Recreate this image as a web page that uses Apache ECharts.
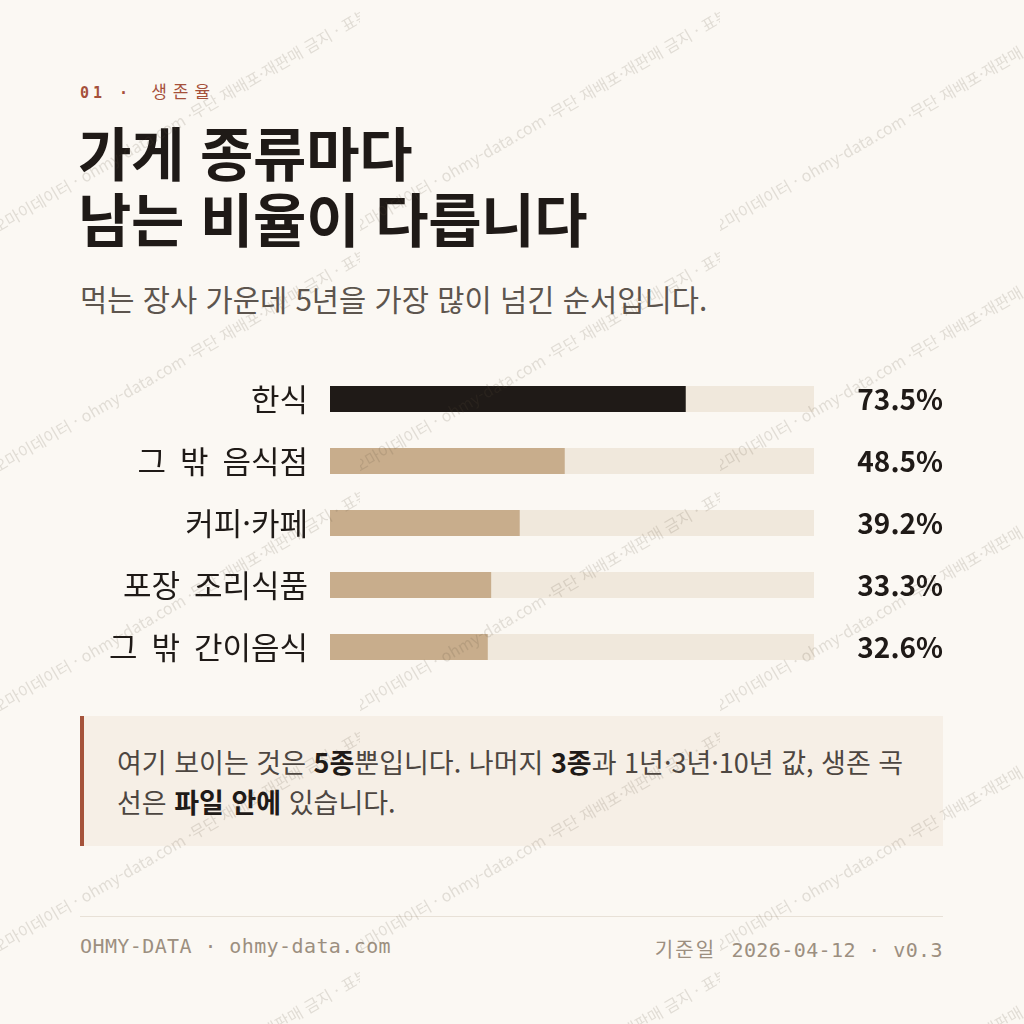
<!DOCTYPE html>
<html lang="ko">
<head>
<meta charset="utf-8">
<title>생존율</title>
<script src="https://cdn.jsdelivr.net/npm/echarts@6/dist/echarts.min.js"></script>
<style>
  html, body { margin: 0; padding: 0; }
  body {
    width: 1024px; height: 1024px; overflow: hidden; position: relative;
    background: #fbf8f3;
    font-family: "Noto Sans CJK KR", "Noto Sans", sans-serif;
    color: #1f1a17;
  }
  .kicker {
    position: absolute; left: 80px; top: 78px;
    font-family: "DejaVu Sans Mono", monospace; font-size: 15px; font-weight: bold;
    letter-spacing: 4px; color: #a5503a;
  }
  .kicker .ko { font-family: "Noto Sans CJK KR", sans-serif; font-weight: normal; font-size: 17px; letter-spacing: 6px; margin-left: 6px; }
  .title {
    position: absolute; left: 78px; top: 118px; margin: 0;
    font-size: 58px; font-weight: bold; line-height: 66px; letter-spacing: -0.3px;
  }
  .sub {
    position: absolute; left: 80px; top: 278px;
    font-size: 29.6px; color: #5d554e; line-height: 42px;
  }
  #chart { position: absolute; left: 0; top: 368px; width: 1024px; height: 310px; }
  .note {
    position: absolute; left: 80px; top: 716px; width: 863px; height: 130px;
    box-sizing: border-box; background: #f6efe6; border-left: 4px solid #a5533b;
    padding: 26px 10px 0 33px;
    font-size: 27px; line-height: 40px; color: #4d4641; white-space: nowrap;
  }
  .note b { color: #1f1a17; font-weight: bold; }
  .rule { position: absolute; left: 80px; top: 916px; width: 863px; height: 1px; background: #e8e1d7; }
  .foot {
    position: absolute; top: 934px;
    font-family: "DejaVu Sans Mono", monospace; font-size: 20px; letter-spacing: 0.4px;
    color: #9c8f80;
  }
  .foot .ko { font-family: "Noto Sans CJK KR", sans-serif; font-size: 20px; letter-spacing: 2px; margin-right: 3px; }
  .wm { position: absolute; left: 0; top: 0; width: 1024px; height: 1024px; pointer-events: none; overflow: hidden; }
  .tile { position: absolute; width: 360px; height: 240px; overflow: hidden; }
  .tile .c { position: absolute; left: 180px; top: 120px; width: 0; height: 0; transform: rotate(-30deg) translateX(13px); }
  .tile span {
    position: absolute; top: -12px; white-space: nowrap;
    font-size: 16px; line-height: 24px; color: rgba(95, 80, 65, 0.16);
  }
  .tile .l { right: 0; }
  .tile .r { left: 0; }
</style>
</head>
<body>
<div class="kicker">01 · <span class="ko">생존율</span></div>
<h1 class="title">가게 종류마다<br>남는 비율이 다릅니다</h1>
<div class="sub">먹는 장사 가운데 5년을 가장 많이 넘긴 순서입니다.</div>
<div id="chart"></div>
<div class="note">여기 보이는 것은 <b>5종</b>뿐입니다. 나머지 <b>3종</b>과 1년·3년·10년 값, 생존 곡<br>선은 <b>파일 안에</b> 있습니다.</div>
<div class="rule"></div>
<div class="foot" style="left:80px">OHMY-DATA · ohmy-data.com</div>
<div class="foot" style="right:81px"><span class="ko">기준일</span> 2026-04-12 · v0.3</div>
<div class="wm" id="wm"></div>
<script>
const categories = ['한식', '그 밖 음식점', '커피·카페', '포장 조리식품', '그 밖 간이음식']
const survival5y = [73.5, 48.5, 39.2, 33.3, 32.6]
const highlight = '한식'

const chart = echarts.init(document.getElementById('chart'), null, { renderer: 'canvas' })
const labelFont = '"Noto Sans CJK KR", sans-serif'

chart.setOption({
    animation: false,
    grid: { left: 330, right: 210, top: 0, bottom: 0 },
    xAxis: {
        type: 'value', min: 0, max: 100,
        show: false
    },
    yAxis: [{
        type: 'category', data: categories, inverse: true,
        axisLine: { show: false }, axisTick: { show: false },
        axisLabel: {
            margin: 22, fontSize: 31, color: '#1f1a17', fontFamily: labelFont,
            // the reference leaves wider gaps between words
            formatter: v => v.split(' ').join('  ')
        }
    }, {
        type: 'category', data: survival5y.map(v => v.toFixed(1) + '%'), inverse: true,
        position: 'right',
        axisLine: { show: false }, axisTick: { show: false },
        axisLabel: { margin: 129, align: 'right', fontSize: 28, fontWeight: 'bold', color: '#1f1a17', fontFamily: labelFont }
    }],
    series: [{
        type: 'bar',
        barWidth: 26,
        data: survival5y.map((v, i) => ({
            value: v,
            itemStyle: { color: categories[i] === highlight ? '#1f1a17' : '#c8ad8c' }
        })),
        showBackground: true,
        backgroundStyle: { color: '#f0e8dc' },
        silent: true
    }]
})

// watermark tiles
const wmLeft = '오마이데이터 · ohmy-data.com · '
const wmRight = '무단 재배포·재판매 금지 · 표본'
const wm = document.getElementById('wm')
for (let y = 0; y < 1024; y += 240) {
    for (let x = 0; x < 1024; x += 360) {
        const t = document.createElement('div')
        t.className = 'tile'
        t.style.left = x + 'px'
        t.style.top = y + 'px'
        t.innerHTML = '<div class="c"><span class="l">' + wmLeft + '</span><span class="r">' + wmRight + '</span></div>'
        wm.appendChild(t)
    }
}
</script>
</body>
</html>
